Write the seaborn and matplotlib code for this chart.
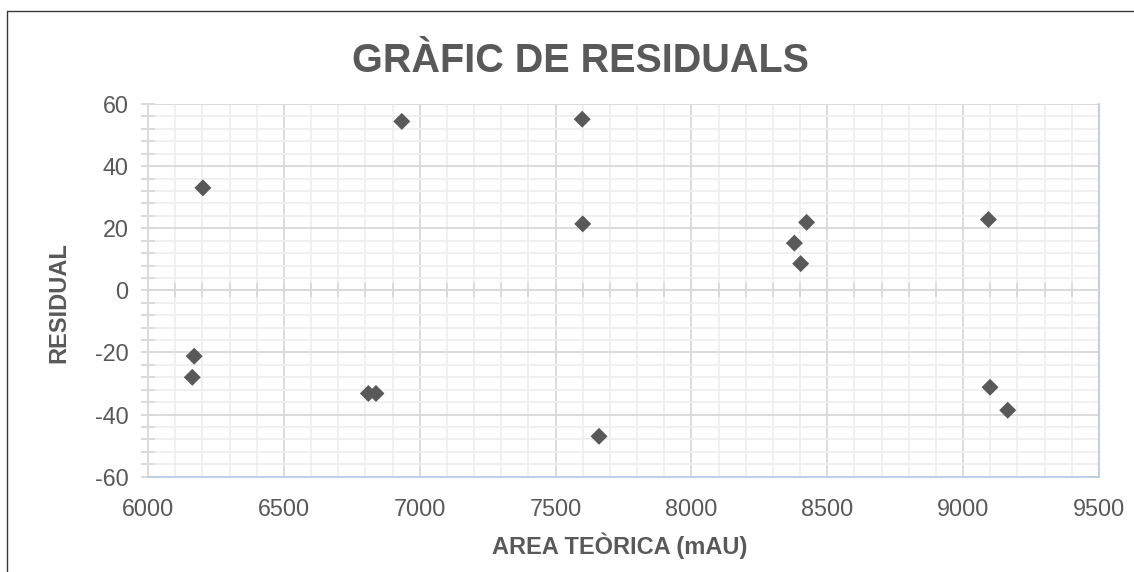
import matplotlib
matplotlib.use("Agg")
import matplotlib.pyplot as plt
from matplotlib.lines import Line2D
from matplotlib.ticker import MultipleLocator
import seaborn as sns

# Theoretical area (mAU) and residual for each calibration point
area_teorica = [6202, 6934, 7598, 7600, 8424, 8379, 8402, 9093,
                6170, 6163, 6811, 6839, 7660, 9099, 9164]
residual = [33.0, 54.4, 55.1, 21.4, 21.9, 15.2, 8.6, 22.8,
            -21.2, -28.0, -33.2, -33.2, -47.0, -31.2, -38.6]

x_limits = (6000, 9500)
y_limits = (-60, 60)

TEXT = "#595959"
MAJOR = "#d9d9d9"
MINOR = "#efefef"
BORDER = "#bccbe6"

sns.set_theme(style="white")
plt.rcParams["font.family"] = ["Liberation Sans", "DejaVu Sans"]
plt.rcParams["axes.unicode_minus"] = False

fig = plt.figure(figsize=(11.34, 5.72), dpi=100)
fig.patch.set_facecolor("white")
ax = fig.add_axes([148 / 1134, 1 - 476.7 / 572, 951 / 1134, 372.7 / 572])

sns.scatterplot(x=area_teorica, y=residual, marker="D", s=75,
                color=TEXT, edgecolor="none", linewidth=0, ax=ax, zorder=3)

ax.set_xlim(*x_limits)
ax.set_ylim(*y_limits)
ax.xaxis.set_major_locator(MultipleLocator(500))
ax.xaxis.set_minor_locator(MultipleLocator(100))
ax.yaxis.set_major_locator(MultipleLocator(20))
ax.yaxis.set_minor_locator(MultipleLocator(4))

ax.grid(which="minor", color=MINOR, lw=1.3, zorder=0)
ax.grid(which="major", color=MAJOR, lw=1.3, zorder=0)
ax.set_axisbelow(True)

# horizontal axis line crosses at zero, labels stay at the bottom
ax.spines["top"].set_position(("data", 0))
ax.spines["top"].set_color(MAJOR)
ax.spines["top"].set_linewidth(1.3)
ax.spines["left"].set_color(MAJOR)
ax.spines["left"].set_linewidth(1.3)
for side in ("bottom", "right"):
    ax.spines[side].set_color(BORDER)
    ax.spines[side].set_linewidth(1.3)

ax.tick_params(axis="x", which="both", bottom=False, top=True,
               labelbottom=True, labeltop=False, direction="inout",
               length=10, width=1.3, color=MAJOR)
ax.tick_params(axis="x", which="major", pad=10.5, labelsize=16.8, labelcolor=TEXT)
ax.tick_params(axis="y", which="both", left=True, direction="inout",
               length=10, width=1.3, color=MAJOR)
ax.tick_params(axis="y", which="major", pad=9, labelsize=16.8, labelcolor=TEXT)

ax.set_xlabel("")
ax.set_ylabel("")

fig.text(580 / 1134, 1 - 72 / 572, "GRÀFIC DE RESIDUALS", ha="center",
         va="baseline", fontsize=28.5, fontweight="bold", color=TEXT)
fig.text(620 / 1134, 1 - 554 / 572, "AREA TEÒRICA (mAU)", ha="center",
         va="baseline", fontsize=17, fontweight="bold", color=TEXT)
fig.text(58.5 / 1134, 1 - 303 / 572, "RESIDUAL", ha="center", va="center",
         rotation=90, fontsize=17, fontweight="bold", color=TEXT)

# chart frame
fx = 7.3 / 1134
fy = 1 - 10.7 / 572
fig.add_artist(Line2D([fx, fx], [0, fy], color="#3a3a3a", lw=1.0))
fig.add_artist(Line2D([fx, 1], [fy, fy], color="#3a3a3a", lw=1.0))

fig.savefig("out.png", dpi=100, facecolor="white")
